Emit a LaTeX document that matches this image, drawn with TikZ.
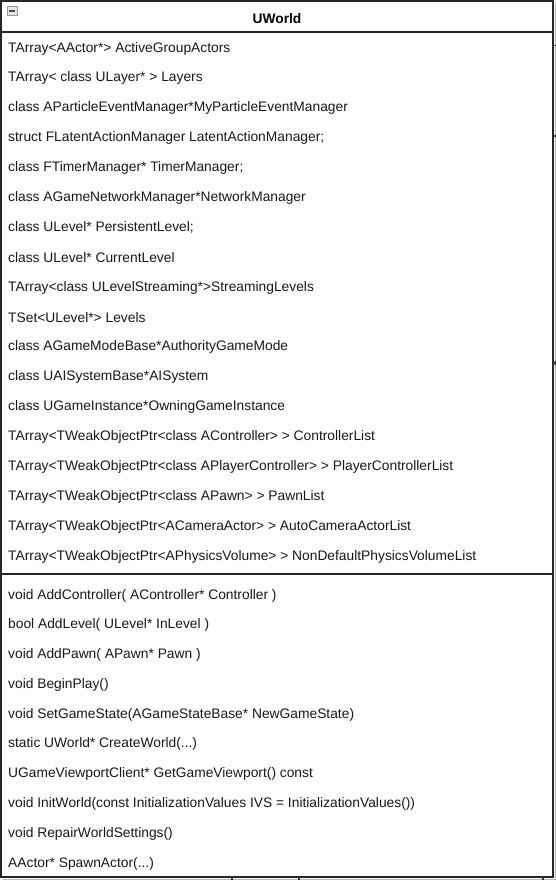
\documentclass[tikz,border=0pt]{standalone}
\usepackage{fontspec}
\setmainfont{Liberation Sans}
\usetikzlibrary{arrows.meta,positioning,calc}

\newcommand\elide{...}
\tikzset{
  member/.style={anchor=west,inner sep=0pt,text=black!90,font=\fontsize{13.8}{16}\selectfont},
  classname/.style={inner sep=0pt,font=\fontsize{13.8}{16}\selectfont\bfseries},
  umlframe/.style={draw=black!85,line width=1.2pt},
  stub/.style={draw=black!80,line width=1.2pt}
}

\begin{document}
\begin{tikzpicture}[x=1pt,y=-1pt]
  \useasboundingbox (0,0) rectangle (556,880);
  \fill[white] (0,0) rectangle (556,880);
  % shadow and class frame
  \draw[gray!55,line width=1pt] (555,3) -- (555,879) -- (3,879);
  \draw[umlframe,fill=white] (1,1) rectangle (553,877);
  \draw[umlframe] (1,32) -- (553,32);
  \draw[umlframe] (1,574) -- (553,574);

  % collapse icon
  \node[draw=gray!80,fill=gray!20,minimum width=10pt,minimum height=9pt,inner sep=0pt] (fold) at (12,11) {};
  \draw[black!70,line width=1.3pt] ($(fold.west)+(2,0)$) -- ($(fold.east)+(-2,0)$);

  \node[classname] (uworld) at (277,19) {UWorld};

  % attributes
  \foreach \txt [count=\i] in {
    TArray<AActor*> ActiveGroupActors,
    TArray< class ULayer* > Layers,
    class AParticleEventManager*MyParticleEventManager,
    struct FLatentActionManager LatentActionManager;,
    class FTimerManager* TimerManager;,
    class AGameNetworkManager*NetworkManager,
    class ULevel* PersistentLevel;,
    class ULevel* CurrentLevel,
    TArray<class ULevelStreaming*>StreamingLevels,
    TSet<ULevel*> Levels,
    class AGameModeBase*AuthorityGameMode,
    class UAISystemBase*AISystem,
    class UGameInstance*OwningGameInstance,
    TArray<TWeakObjectPtr<class AController> > ControllerList,
    TArray<TWeakObjectPtr<class APlayerController> > PlayerControllerList,
    TArray<TWeakObjectPtr<class APawn> > PawnList,
    TArray<TWeakObjectPtr<ACameraActor> > AutoCameraActorList,
    TArray<TWeakObjectPtr<APhysicsVolume> > NonDefaultPhysicsVolumeList}{
    \node[member] (attr\i) at (8,{48.5+29.88*(\i-1)}) {\txt};
  }

  % operations
  \foreach \txt [count=\i] in {
    void AddController( AController* Controller ),
    bool AddLevel( ULevel* InLevel ),
    void AddPawn( APawn* Pawn ),
    void BeginPlay(),
    void SetGameState(AGameStateBase* NewGameState),
    static UWorld* CreateWorld(\elide),
    UGameViewportClient* GetGameViewport() const,
    void InitWorld(const InitializationValues IVS = InitializationValues()),
    void RepairWorldSettings(),
    AActor* SpawnActor(\elide)}{
    \node[member] (op\i) at (8,{595.5+29.78*(\i-1)}) {\txt};
  }

  % cut-off connector ends
  \coordinate (r1) at (553,45.5);
  \coordinate (r2) at (553,136);
  \coordinate (r3) at (553,363);
  \draw[stub] (r1) -- ++(3,0);
  \draw[stub] (r2) -- ++(3,0);
  \draw[stub,{Straight Barb[length=3pt,width=5pt]}-] (r3) -- ++(3,0);
  \foreach \x [count=\k] in {232,299,543}{
    \coordinate (b\k) at (\x,877);
    \draw[stub] (b\k) -- ++(0,3);
  }
\end{tikzpicture}
\end{document}
